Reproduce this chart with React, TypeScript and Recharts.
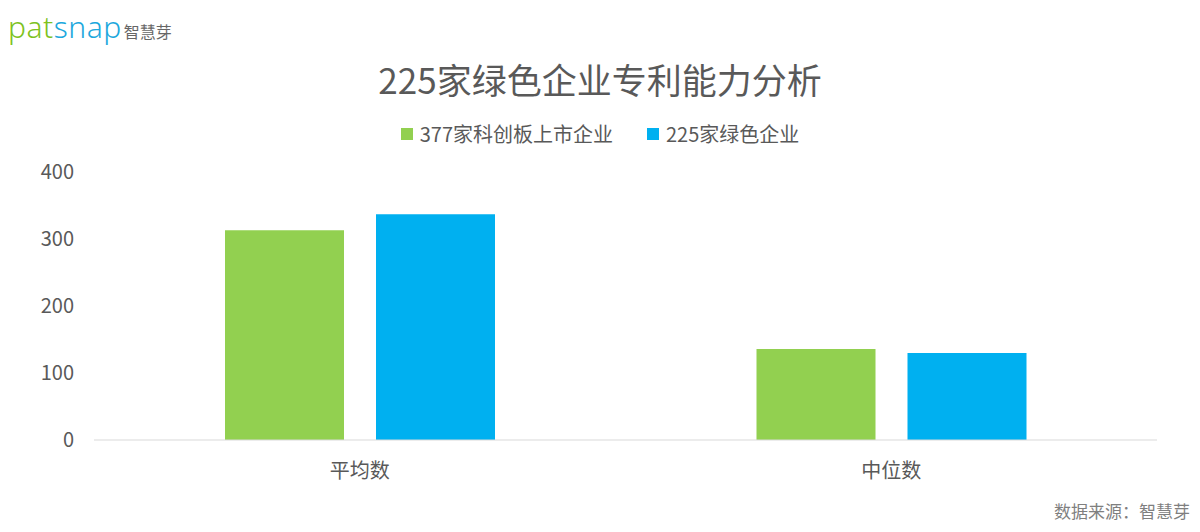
import React from 'react';
import { BarChart, Bar, XAxis, YAxis } from 'recharts';

// 分类与数据
const categories = ['平均数', '中位数'];
const kcbValues = [313, 136];
const greenValues = [337, 130];
const yTicks = [0, 100, 200, 300, 400];

const seriesNames = ['377家科创板上市企业', '225家绿色企业'];
const seriesColors = ['#92D050', '#00B0F0'];

const FONT = '"Noto Sans CJK SC", "Noto Sans", sans-serif';

const data = categories.map((name, i) => ({
  name,
  kcb: kcbValues[i],
  green: greenValues[i],
}));

// 图例（放在图表外，避免影响绘图区）
const CustomLegend = () => (
  <div style={{ position: 'absolute', left: 0, top: 119, width: 1200, display: 'flex', justifyContent: 'center', fontSize: 20, color: '#595959' }}>
    {seriesNames.map((n, i) => (
      <div key={n} style={{ display: 'flex', alignItems: 'center', marginRight: i === 0 ? 34 : 0 }}>
        <span style={{ width: 12, height: 12, background: seriesColors[i], display: 'inline-block', marginRight: 7 }} />
        <span>{n}</span>
      </div>
    ))}
  </div>
);

export default function App() {
  return (
    <div style={{ position: 'absolute', left: 0, top: 0, width: 1200, height: 532, background: '#fff', fontFamily: FONT }}>
      <div style={{ position: 'absolute', left: 8, top: 6, display: 'flex', alignItems: 'baseline' }}>
        <span style={{ fontFamily: '"Noto Sans", sans-serif', fontSize: 30, fontWeight: 300, letterSpacing: 0.5 }}>
          <span style={{ color: '#7DC21E' }}>pat</span>
          <span style={{ color: '#1CA8DD' }}>snap</span>
        </span>
        <span style={{ fontSize: 16, color: '#666', marginLeft: 2 }}>智慧芽</span>
      </div>
      <div style={{ position: 'absolute', left: 0, top: 53, width: 1200, textAlign: 'center', fontSize: 35, color: '#595959' }}>
        225家绿色企业专利能力分析
      </div>
      <CustomLegend />
      <BarChart
        width={1200}
        height={532}
        data={data}
        margin={{ top: 172, right: 43, bottom: 62, left: 0 }}
        barSize={119}
        barGap={32}
      >
        <XAxis
          dataKey="name"
          height={30}
          axisLine={{ stroke: '#D9D9D9' }}
          tickLine={false}
          tick={{ fill: '#595959', fontSize: 20, fontFamily: FONT }}
          dy={16}
        />
        <YAxis
          width={94}
          domain={[0, 400]}
          ticks={yTicks}
          axisLine={false}
          tickLine={false}
          tick={{ fill: '#595959', fontSize: 20, fontFamily: FONT }}
          dx={-12}
        />
        <Bar dataKey="kcb" name={seriesNames[0]} fill={seriesColors[0]} isAnimationActive={false} />
        <Bar dataKey="green" name={seriesNames[1]} fill={seriesColors[1]} isAnimationActive={false} />
      </BarChart>
      <div style={{ position: 'absolute', right: 10, top: 498, fontSize: 17, color: '#7F7F7F' }}>
        数据来源：智慧芽
      </div>
    </div>
  );
}
